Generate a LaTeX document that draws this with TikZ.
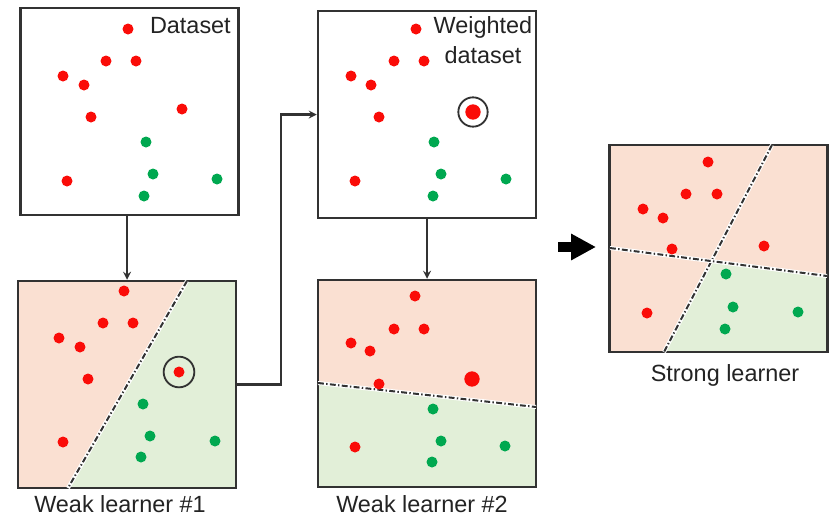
\documentclass[tikz,border=0pt]{standalone}
\usepackage{fontspec}
\setmainfont{Liberation Sans}
\usetikzlibrary{arrows.meta}
\definecolor{dotred}{RGB}{250,12,8}
\definecolor{dotgreen}{RGB}{0,168,80}
\definecolor{peach}{RGB}{250,224,210}
\definecolor{paleleaf}{RGB}{226,239,216}
\definecolor{framegray}{RGB}{50,50,50}
\definecolor{textgray}{RGB}{35,35,35}

\begin{document}
\begin{tikzpicture}[x=0.03cm,y=-0.03cm,>=stealth]
\tikzstyle{plate}=[rectangle,draw=framegray,line width=0.075cm,inner sep=0pt,minimum width=6.54cm,minimum height=6.21cm]
 \tikzstyle{caption}=[inner sep=0pt,text=textgray,font=\fontsize{20}{25.6}\selectfont]
 \tikzstyle{flow}=[draw=framegray,line width=0.07cm]
 \tikzstyle{split}=[draw=framegray,line width=0.06cm,dash pattern=on 5pt off 2pt on 1.2pt off 2pt,preaction={draw=white,solid,line width=0.12cm}]
 \tikzstyle{ring}=[draw=framegray,line width=0.055cm]
 \useasboundingbox (0,0) rectangle (837,522);

 % class regions
 \fill[peach] (18,281) -- (187,281) -- (68,488) -- (18,488) -- cycle;
 \fill[paleleaf] (187,281) -- (236,281) -- (236,488) -- (68,488) -- cycle;
 \fill[peach] (318,280) -- (536,280) -- (536,407) -- (318,383) -- cycle;
 \fill[paleleaf] (318,383) -- (536,407) -- (536,487) -- (318,487) -- cycle;
 \fill[peach] (610,145) rectangle (827,352);
 \fill[paleleaf] (710,261) -- (827,276) -- (827,352) -- (664,352) -- cycle;

 \node[plate] (data) at (129.5,111.5) {};
 \node[plate] (wdata) at (427,114.5) {};
 \node[plate] (weak1) at (127,384.5) {};
 \node[plate] (weak2) at (427,383.5) {};
 \node[plate] (strong) at (718.5,248.5) {};

 \draw[split] (187,281) -- (68,488);
 \draw[split] (318,383) -- (536,407);
 \draw[split] (772,145) -- (664,352);
 \draw[split] (610,248) -- (827,276);

 % points
 \foreach \p in {(128,29),(106,61),(136,61),(63,76),(84,85),(182,109),(91,117),(67,181),
   (416,29),(394,61),(424,61),(351,76),(371,85),(379,117),(355,181),
   (124,291),(103,323),(133,323),(59,338),(80,347),(88,379),(63,442),(179,372),
   (415,296),(394,329),(424,329),(351,343),(370,351),(379,384),(355,447),
   (708,162),(686,194),(717,194),(643,209),(663,218),(672,249),(764,246),(647,313)}
  \fill[dotred] \p circle (0.165cm);
 \foreach \p in {(146,142),(153,174),(217,179),(144,196),
   (434,142),(441,174),(506,179),(433,196),
   (143,404),(150,436),(215,441),(141,457),
   (433,409),(441,441),(505,446),(432,462),
   (726,274),(733,307),(798,312),(725,329)}
  \fill[dotgreen] \p circle (0.165cm);
 \fill[dotred] (473,112) circle (0.23cm);
 \fill[dotred] (472,379) circle (0.23cm);
 \draw[ring] (473,112) circle (0.44cm);
 \draw[ring] (179,372) circle (0.46cm);

 \node[caption,anchor=base east] (datalbl) at (231,33) {Dataset};
 \node[caption,anchor=base,align=center] (wdatalbl) at (483,63) {Weighted\\dataset};
 \node[caption,anchor=base] (weak1lbl) at (120,512) {Weak learner \#1};
 \node[caption,anchor=base] (weak2lbl) at (422,512) {Weak learner \#2};
 \node[caption,anchor=base] (stronglbl) at (725,381) {Strong learner};

 \draw[flow,->] (weak1.north |- data.south) -- (weak1.north);
 \draw[flow,->] (weak2.north |- wdata.south) -- (weak2.north);
 \draw[flow,->] (weak1.east) -- ++(44,0) |- (wdata.west);

 \coordinate (pushtail) at (558,247);
 \coordinate (pushtip) at (596,247);
 \draw[line width=0.3cm,-{Triangle[length=0.75cm,width=0.75cm]}] (pushtail) -- (pushtip);

\end{tikzpicture}
\end{document}
